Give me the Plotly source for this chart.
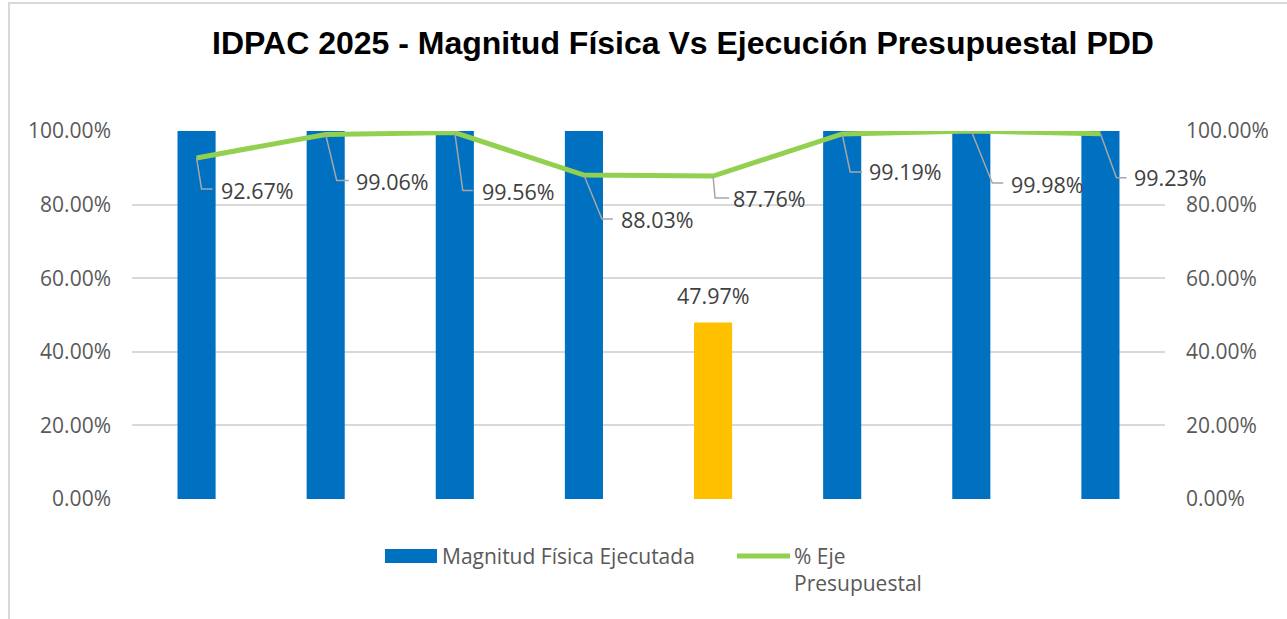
import plotly.graph_objects as go

# ---- data ----
categories = ["Meta 1", "Meta 2", "Meta 3", "Meta 4", "Meta 5", "Meta 6", "Meta 7", "Meta 8"]
magnitud_fisica = [1.0, 1.0, 1.0, 1.0, 0.4797, 1.0, 1.0, 1.0]
eje_presupuestal = [0.9267, 0.9906, 0.9956, 0.8803, 0.8776, 0.9919, 0.9998, 0.9923]
left_ticks = [0, 0.2, 0.4, 0.6, 0.8, 1.0]

# leader-line geometry for the line labels (pixel offsets from each point, screen-down positive)
elbow_dx = [5, 11, 8, 18, 2, 8, 21, 16]
elbow_dy = [31, 46, 58, 44, 22, 38, 52, 44]
end_dx = [16, 23, 18, 29, 16, 20, 32, 26]
text_dx = [22, 28, 25, 35, 18, 25, 38, 32]
text_dy = [33, 47, 59, 44, 22, 38, 53, 44]

W, H = 1287, 619
L, R, T, B = 132, 1165, 131, 499  # plot area in pixels

def px_x(px):
    return (px - L) / (R - L)

def px_y(py):
    return (B - py) / (B - T)

BLUE = "#0070C0"
YELLOW = "#FFC000"
GREEN = "#92D050"
TXT = "#595959"
LBL = "#404040"
LEADER = "#A6A6A6"
FONT = "Open Sans"

bar_colors = [YELLOW if v < 1 else BLUE for v in magnitud_fisica]

fig = go.Figure()
fig.add_trace(go.Bar(
    x=categories, y=magnitud_fisica, marker=dict(color=bar_colors, line=dict(width=0)),
    name="Magnitud Física Ejecutada", showlegend=False, hoverinfo="skip",
))
fig.add_trace(go.Scatter(
    x=categories, y=eje_presupuestal, yaxis="y2", mode="lines",
    line=dict(color=GREEN, width=5), name="% Eje Presupuestal",
    showlegend=False, cliponaxis=False, hoverinfo="skip",
))

annotations = []
shapes = []
# line labels with elbow leader lines
for i, (c, v) in enumerate(zip(categories, eje_presupuestal)):
    annotations.append(dict(
        x=c, y=v, xref="x", yref="y2", text=f"{v*100:.2f}%",
        showarrow=False, xanchor="left", yanchor="middle",
        xshift=text_dx[i], yshift=-text_dy[i],
        font=dict(family=FONT, size=21.5, color=LBL),
    ))
    shapes.append(dict(
        type="path", xref="x", yref="y2", xsizemode="pixel", ysizemode="pixel",
        xanchor=c, yanchor=v,
        path=f"M 0,0 L {elbow_dx[i]},{-elbow_dy[i]} L {end_dx[i]},{-elbow_dy[i]}",
        line=dict(color=LEADER, width=1.5), layer="above",
    ))
# bar labels only for bars below 100%
for c, v in zip(categories, magnitud_fisica):
    if v < 1:
        annotations.append(dict(
            x=c, y=v, xref="x", yref="y", text=f"{v*100:.2f}%",
            showarrow=False, yanchor="bottom", yshift=10,
            font=dict(family=FONT, size=21.5, color=LBL),
        ))

# manual legend
LEG = dict(family=FONT, size=21, color=TXT)
annotations.append(dict(x=px_x(440), y=px_y(556), xref="paper", yref="paper",
                        text="Magnitud Física Ejecutada", showarrow=False,
                        xanchor="left", yanchor="middle", font=LEG))
annotations.append(dict(x=px_x(792), y=px_y(556), xref="paper", yref="paper",
                        text="% Eje", showarrow=False,
                        xanchor="left", yanchor="middle", font=LEG))
annotations.append(dict(x=px_x(792), y=px_y(583), xref="paper", yref="paper",
                        text="Presupuestal", showarrow=False,
                        xanchor="left", yanchor="middle", font=LEG))

shapes += [
    dict(type="rect", xref="paper", yref="paper",
         x0=px_x(385), x1=px_x(437), y0=px_y(563), y1=px_y(549),
         fillcolor=BLUE, line=dict(width=0)),
    dict(type="line", xref="paper", yref="paper",
         x0=px_x(737), x1=px_x(790), y0=px_y(556), y1=px_y(556),
         line=dict(color=GREEN, width=5)),
    # outer frame (left and top)
    dict(type="path", xref="paper", yref="paper",
         path=f"M {px_x(9)},{px_y(640)} L {px_x(9)},{px_y(3)} L {px_x(1300)},{px_y(3)}",
         line=dict(color="#D9D9D9", width=2)),
]

fig.update_layout(
    width=W, height=H,
    margin=dict(l=L, r=W - R, t=T, b=H - B, pad=0),
    paper_bgcolor="white", plot_bgcolor="white",
    title=dict(text="<b>IDPAC 2025 - Magnitud Física Vs Ejecución Presupuestal PDD</b>",
               x=683 / W, xanchor="center", y=1 - 43 / H, yanchor="middle",
               xref="container", yref="container",
               font=dict(family="Liberation Sans, Arial", size=32, color="black")),
    bargap=0.705,
    xaxis=dict(range=[-0.5, len(categories) - 0.5], showticklabels=False, showgrid=False,
               zeroline=False, showline=False, ticks=""),
    yaxis=dict(range=[0, 1], tickvals=left_ticks, tickformat=".2%",
               showgrid=True, gridcolor="#D9D9D9", gridwidth=1.5, zeroline=False, showline=False,
               tickfont=dict(family=FONT, size=21, color=TXT), ticklabelstandoff=20),
    yaxis2=dict(range=[0, 1], tickvals=left_ticks, tickformat=".2%", overlaying="y", side="right",
                showgrid=False, zeroline=False, showline=False,
                tickfont=dict(family=FONT, size=21, color=TXT), ticklabelstandoff=20),
    annotations=annotations, shapes=shapes, showlegend=False,
)

fig.write_html("out.html", config={"displayModeBar": False},
               post_script="document.body.style.margin='0';")
